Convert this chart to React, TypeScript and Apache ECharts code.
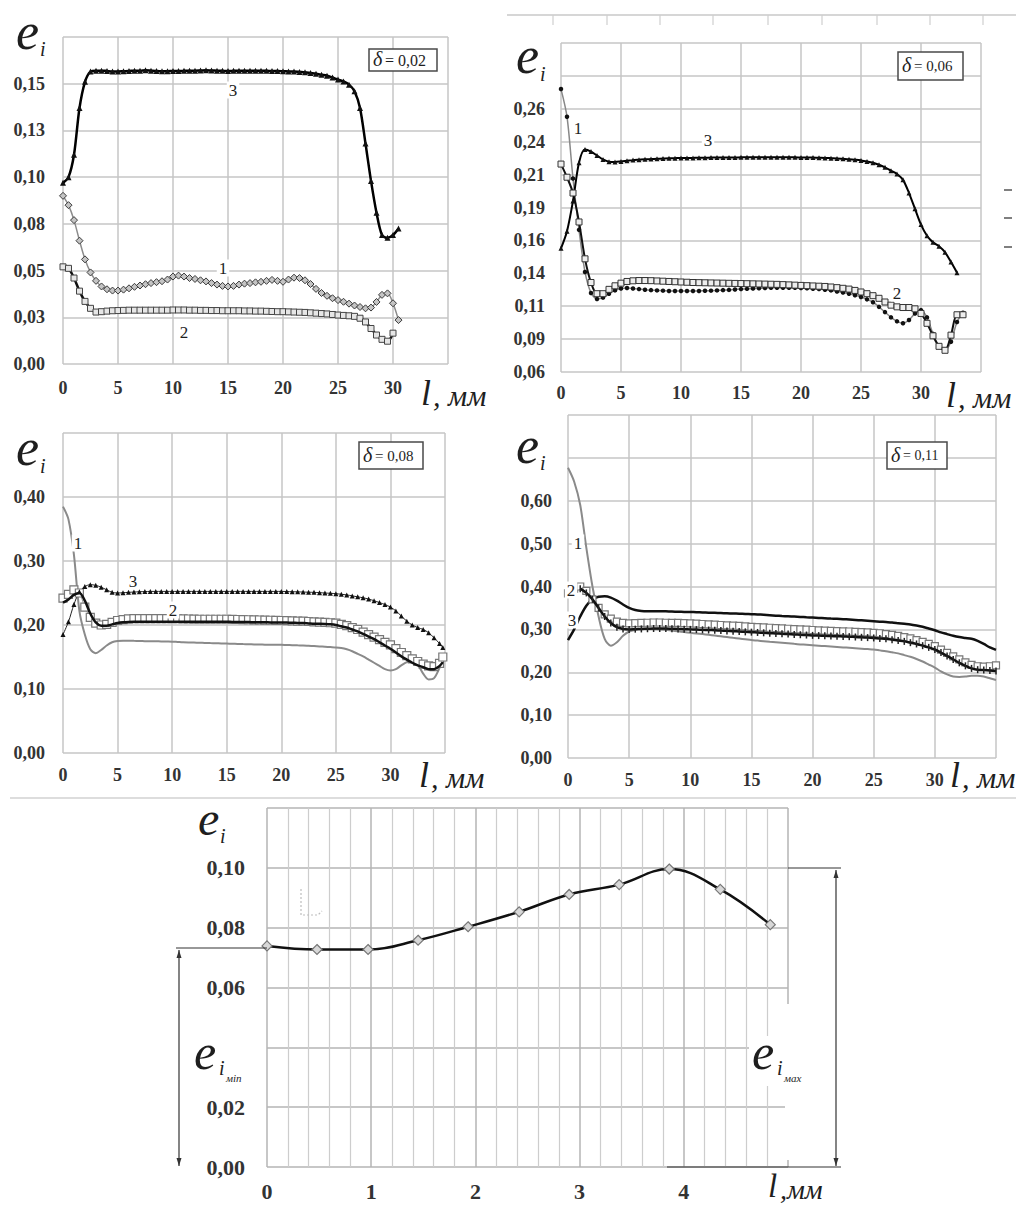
import React, { useEffect, useRef } from "react";
import * as echarts from "echarts";

const SERIF = "'Liberation Serif', 'DejaVu Serif', serif";

// ---------------- Panel 1 : δ = 0,02 ----------------
const p1X = [0,0.5,1,1.5,2,2.5,3,3.5,4,4.5,5,5.5,6,6.5,7,7.5,8,8.5,9,9.5,10,10.5,11,11.5,12,12.5,13,13.5,14,14.5,15,15.5,16,16.5,17,17.5,18,18.5,19,19.5,20,20.5,21,21.5,22,22.5,23,23.5,24,24.5,25,25.5,26,26.5,27,27.5,28,28.5,29,29.5,30,30.5,31];
const p1Curve1 = [0.090,0.085,0.077,0.066,0.056,0.049,0.0445,0.0415,0.040,0.0393,
 0.0393,0.0398,0.0405,0.0413,0.042,0.0427,0.0433,0.0438,0.0443,0.0452,
 0.0468,0.0473,0.0468,0.046,0.0455,0.0448,0.0442,0.0433,0.0425,0.0418,
 0.0415,0.0418,0.0425,0.043,0.0433,0.0437,0.044,0.0445,0.045,0.0445,
 0.044,0.0452,0.0462,0.046,0.0448,0.0428,0.0402,0.038,0.0365,0.0352,
 0.0342,0.0333,0.0323,0.0313,0.0305,0.0298,0.0302,0.0332,0.037,0.0378,
 0.0325,0.0235];
const p1Curve2 = [0.052,0.0512,0.046,0.039,0.0335,0.0298,0.0278,0.028,0.0283,0.0285,
 0.0286,0.0287,0.0288,0.0288,0.0288,0.0288,0.0288,0.0288,0.0288,0.0288,
 0.0289,0.0289,0.0289,0.0288,0.0288,0.0287,0.0287,0.0286,0.0286,0.0285,
 0.0285,0.0285,0.0285,0.0284,0.0284,0.0283,0.0283,0.0282,0.0281,0.028,
 0.028,0.0279,0.0278,0.0277,0.0276,0.0274,0.0272,0.027,0.0268,0.0265,
 0.0262,0.026,0.0258,0.0255,0.0245,0.0225,0.019,0.0155,0.0132,0.0122,
 0.0165];
const p1Curve3 = [0.097,0.100,0.112,0.137,0.151,0.1565,0.157,0.157,0.1568,0.1566,
 0.1566,0.1567,0.1568,0.157,0.157,0.1572,0.157,0.1568,0.1567,0.1567,
 0.1568,0.1568,0.1569,0.157,0.157,0.1571,0.1572,0.1571,0.157,0.1569,
 0.1568,0.1569,0.157,0.157,0.157,0.1569,0.1569,0.1569,0.1568,0.1568,
 0.1567,0.1566,0.1565,0.1563,0.1561,0.1557,0.1553,0.1548,0.1543,0.1533,
 0.1522,0.1512,0.1495,0.146,0.137,0.118,0.098,0.081,0.069,0.0675,
 0.069,0.0725];
const p1YTicks = ["0,00","0,03","0,05","0,08","0,10","0,13","0,15",""];

// ---------------- Panel 2 : δ = 0,06 ----------------
const p2X = [0,0.5,1,1.5,2,2.5,3,3.5,4,4.5,5,5.5,6,6.5,7,7.5,8,8.5,9,9.5,10,10.5,11,11.5,12,12.5,13,13.5,14,14.5,15,15.5,16,16.5,17,17.5,18,18.5,19,19.5,20,20.5,21,21.5,22,22.5,23,23.5,24,24.5,25,25.5,26,26.5,27,27.5,28,28.5,29,29.5,30,30.5,31,31.5,32,32.5,33,33.5];
const p2Curve1 = [0.275,0.254,0.207,0.168,0.136,0.12,0.1155,0.1165,0.1195,0.122,
 0.1235,0.1238,0.1235,0.123,0.1225,0.1222,0.122,0.1218,0.1216,0.1215,
 0.1215,0.1215,0.1215,0.1216,0.1217,0.1218,0.122,0.1222,0.1224,0.1227,
 0.123,0.1232,0.1234,0.1236,0.1238,0.124,0.124,0.124,0.124,0.124,
 0.1238,0.1236,0.1233,0.123,0.1225,0.122,0.1212,0.1204,0.1195,0.1183,
 0.117,0.1152,0.113,0.1095,0.1055,0.1015,0.0985,0.097,0.0995,0.1045,
 0.107,0.1015,0.089,0.0795,0.0765,0.083,0.098,0.105];
const p2Curve2 = [0.218,0.208,0.196,0.174,0.146,0.128,0.1195,0.1195,0.1228,0.1255,
 0.1275,0.1288,0.1293,0.1295,0.1295,0.1294,0.1292,0.129,0.1288,0.1286,
 0.1284,0.1282,0.128,0.1279,0.1278,0.1277,0.1276,0.1275,0.1274,0.1273,
 0.1272,0.1271,0.127,0.1269,0.1268,0.1267,0.1266,0.1264,0.1262,0.126,
 0.1258,0.1256,0.1254,0.1252,0.125,0.1246,0.1241,0.1236,0.123,0.122,
 0.1208,0.1195,0.118,0.116,0.1132,0.1108,0.1095,0.109,0.109,0.108,
 0.1045,0.097,0.0875,0.0795,0.0765,0.088,0.1035,0.1035];
const p2Curve3 = [0.154,0.167,0.19,0.219,0.229,0.2275,0.2245,0.2215,0.2198,0.2196,
 0.22,0.2205,0.221,0.2213,0.2216,0.2218,0.222,0.2222,0.2224,0.2225,
 0.2226,0.2226,0.2227,0.2228,0.2228,0.2229,0.2229,0.223,0.223,0.223,
 0.2231,0.2231,0.2231,0.2231,0.2231,0.2231,0.2231,0.2231,0.2231,0.2231,
 0.223,0.223,0.2229,0.2228,0.2227,0.2225,0.2223,0.222,0.2217,0.2213,
 0.2208,0.22,0.219,0.2175,0.2155,0.213,0.2105,0.206,0.196,0.184,
 0.172,0.1635,0.1585,0.1555,0.151,0.1435,0.1355];
const p2YMin = 0.06;
const p2YTicks = ["0,06","0,09","0,11","0,14","0,16","0,19","0,21","0,24","0,26","",""];

// ---------------- Panel 3 : δ = 0,08 ----------------
const p3X = [0,0.5,1,1.5,2,2.5,3,3.5,4,4.5,5,5.5,6,6.5,7,7.5,8,8.5,9,9.5,10,10.5,11,11.5,12,12.5,13,13.5,14,14.5,15,15.5,16,16.5,17,17.5,18,18.5,19,19.5,20,20.5,21,21.5,22,22.5,23,23.5,24,24.5,25,25.5,26,26.5,27,27.5,28,28.5,29,29.5,30,30.5,31,31.5,32,32.5,33,33.5,34,34.5,34.8];
const p3Curve1 = [0.385,0.365,0.31,0.222,0.185,0.162,0.156,0.161,0.168,0.173,
 0.175,0.1755,0.1755,0.1752,0.175,0.1748,0.1746,0.1745,0.1744,0.1742,
 0.174,0.1735,0.173,0.1727,0.1725,0.1722,0.172,0.1717,0.1715,0.1712,
 0.171,0.1707,0.1705,0.1702,0.17,0.1697,0.1695,0.1692,0.169,0.169,
 0.169,0.1687,0.1685,0.1682,0.168,0.1675,0.167,0.1665,0.166,0.1655,
 0.165,0.164,0.162,0.159,0.155,0.151,0.146,0.141,0.136,0.131,
 0.129,0.131,0.137,0.142,0.144,0.138,0.124,0.115,0.117,0.133,
 0.146];
const p3Curve2Squares = [0.242,0.248,0.255,0.25,0.228,0.212,0.203,0.2,0.201,0.204,
 0.207,0.2085,0.2095,0.21,0.21,0.21,0.21,0.21,0.21,0.21,
 0.21,0.2098,0.2096,0.2094,0.2092,0.209,0.209,0.209,0.209,0.209,
 0.209,0.2088,0.2086,0.2084,0.2082,0.208,0.2078,0.2076,0.2074,0.2072,
 0.207,0.2067,0.2065,0.2062,0.206,0.2055,0.205,0.2045,0.204,0.2035,
 0.203,0.201,0.199,0.196,0.193,0.189,0.185,0.181,0.177,0.173,
 0.169,0.163,0.157,0.152,0.147,0.143,0.139,0.136,0.135,0.14,
 0.15];
const p3Curve2Line = [0.235,0.24,0.247,0.25,0.238,0.218,0.204,0.199,0.199,0.201,
 0.203,0.2042,0.2048,0.205,0.205,0.205,0.205,0.205,0.205,0.205,
 0.205,0.205,0.205,0.205,0.205,0.205,0.205,0.205,0.205,0.205,
 0.205,0.2048,0.2047,0.2046,0.2045,0.2044,0.2043,0.2042,0.2041,0.204,
 0.204,0.2038,0.2035,0.2032,0.203,0.2025,0.202,0.2018,0.2015,0.201,
 0.2,0.198,0.196,0.193,0.19,0.186,0.182,0.178,0.173,0.168,
 0.163,0.157,0.151,0.146,0.141,0.137,0.134,0.131,0.131,0.136,
 0.142];
const p3Curve3 = [0.185,0.205,0.232,0.252,0.26,0.263,0.262,0.259,0.255,0.251,
 0.25,0.2505,0.251,0.2515,0.252,0.2522,0.2525,0.2525,0.2525,0.2525,
 0.2525,0.2525,0.2525,0.2525,0.2525,0.2525,0.2525,0.2525,0.2525,0.2525,
 0.2525,0.2525,0.2525,0.2525,0.2525,0.2525,0.2525,0.2525,0.2525,0.2525,
 0.2525,0.2523,0.252,0.2518,0.2515,0.2512,0.251,0.2505,0.25,0.2495,
 0.249,0.248,0.247,0.2455,0.244,0.2425,0.2405,0.238,0.235,0.232,
 0.228,0.222,0.214,0.206,0.2,0.196,0.193,0.188,0.18,0.171,
 0.165];
const p3YTicks = ["0,00","0,10","0,20","0,30","0,40",""];

// ---------------- Panel 4 : δ = 0,11 ----------------
const p4X = [0,0.5,1,1.5,2,2.5,3,3.5,4,4.5,5,5.5,6,6.5,7,7.5,8,8.5,9,9.5,10,10.5,11,11.5,12,12.5,13,13.5,14,14.5,15,15.5,16,16.5,17,17.5,18,18.5,19,19.5,20,20.5,21,21.5,22,22.5,23,23.5,24,24.5,25,25.5,26,26.5,27,27.5,28,28.5,29,29.5,30,30.5,31,31.5,32,32.5,33,33.5,34,34.5,35];
const p4Curve1 = [0.677,0.645,0.59,0.49,0.40,0.33,0.278,0.262,0.27,0.285,
 0.295,0.299,0.301,0.3015,0.301,0.3,0.299,0.2972,0.2955,0.2938,
 0.292,0.2905,0.289,0.2872,0.2855,0.2838,0.282,0.2802,0.2785,0.2768,
 0.275,0.2738,0.2725,0.2712,0.27,0.2688,0.2675,0.2662,0.265,0.264,
 0.263,0.262,0.261,0.26,0.259,0.258,0.257,0.256,0.255,0.254,
 0.253,0.251,0.249,0.2465,0.244,0.24,0.236,0.231,0.225,0.218,
 0.211,0.202,0.195,0.19,0.189,0.19,0.192,0.192,0.19,0.186,
 0.182];
const p4Curve2Squares = [0.384,0.395,0.40,0.39,0.37,0.35,0.335,0.325,0.318,0.315,
 0.314,0.3145,0.315,0.3155,0.316,0.316,0.3155,0.3152,0.315,0.3145,
 0.314,0.3132,0.3125,0.3118,0.311,0.3102,0.3095,0.3088,0.308,0.307,
 0.306,0.3052,0.3045,0.3038,0.303,0.3022,0.3015,0.3008,0.3,0.2992,
 0.2985,0.2978,0.297,0.2965,0.296,0.2955,0.295,0.2942,0.2935,0.2928,
 0.292,0.291,0.289,0.287,0.285,0.282,0.279,0.275,0.271,0.266,
 0.261,0.253,0.245,0.237,0.23,0.223,0.217,0.214,0.213,0.214,
 0.216];
const p4Curve2Line = [null,null,0.395,0.385,0.37,0.35,0.33,0.315,0.305,0.301,
 0.3,0.3005,0.301,0.3015,0.302,0.302,0.302,0.3015,0.301,0.3005,
 0.3,0.2995,0.299,0.2985,0.298,0.2972,0.2965,0.2958,0.295,0.2942,
 0.2935,0.2928,0.292,0.2912,0.2905,0.2898,0.289,0.2882,0.2875,0.2868,
 0.286,0.2855,0.285,0.2845,0.284,0.2835,0.283,0.2822,0.2815,0.2808,
 0.28,0.279,0.278,0.276,0.274,0.272,0.269,0.266,0.262,0.258,
 0.253,0.246,0.238,0.23,0.222,0.215,0.209,0.206,0.205,0.204,
 0.203];
const p4Curve3 = [0.275,0.30,0.33,0.355,0.37,0.376,0.377,0.374,0.367,0.358,
 0.35,0.345,0.343,0.3425,0.3425,0.3422,0.342,0.3415,0.341,0.3408,
 0.3405,0.34,0.3395,0.339,0.3385,0.338,0.3375,0.337,0.3365,0.336,
 0.3355,0.3348,0.334,0.333,0.332,0.3312,0.3305,0.3298,0.329,0.3282,
 0.3275,0.3268,0.326,0.3252,0.3245,0.3238,0.323,0.322,0.321,0.32,
 0.319,0.318,0.317,0.316,0.3145,0.313,0.3115,0.309,0.306,0.302,
 0.298,0.293,0.289,0.285,0.282,0.28,0.278,0.273,0.266,0.258,
 0.252];
const p4YTicks = ["0,00","0,10","0,20","0,30","0,40","0,50","0,60","",""];

// ---------------- Panel 5 : e_i along l ----------------
const p5X = [0,0.48,0.97,1.45,1.93,2.42,2.9,3.38,3.86,4.35,4.83];
const p5Y = [0.0739,0.0727,0.0727,0.0758,0.0803,0.0853,0.0911,0.0944,0.0996,0.0928,0.081];
const p5YTicks = ["0,00","0,02","","0,06","0,08","0,10",""];
const p5XTicks = ["0","1","2","3","4",""];

const mmTicks = ["0","5","10","15","20","25","30",""];

type Pt = [number, number];
function pts(xs: number[], ys: (number | null)[], off = 0): Pt[] {
  const out: Pt[] = [];
  ys.forEach((y, i) => {
    if (y != null) out.push([xs[i], Math.round((y - off) * 1e6) / 1e6]);
  });
  return out;
}

function ser(idx: number, data: Pt[], o: any) {
  const hasSym = o.symbol != null && o.symbol !== "none";
  return {
    type: "line",
    xAxisIndex: idx,
    yAxisIndex: idx,
    data,
    smooth: o.smooth ?? 0.3,
    symbol: o.symbol ?? "none",
    symbolSize: o.size ?? 6,
    showSymbol: hasSym,
    showAllSymbol: true,
    lineStyle: { color: o.line, width: o.width ?? 2 },
    itemStyle: {
      color: o.fill ?? o.line,
      borderColor: o.border ?? o.fill ?? o.line,
      borderWidth: o.bw ?? 0,
    },
    emphasis: { disabled: true },
    silent: true,
    z: o.z ?? 2,
  };
}

function xAx(gi: number, max: number, interval: number, labels: string[], fs: number, margin: number, minor = false) {
  const a: any = {
    type: "value",
    gridIndex: gi,
    min: 0,
    max,
    interval,
    axisLine: { show: false },
    axisTick: { show: false },
    axisLabel: {
      margin,
      fontFamily: SERIF,
      fontSize: fs,
      fontWeight: "bold",
      color: "#333",
      formatter: (v: number) => labels[Math.round(v / interval)] ?? "",
    },
    splitLine: { show: true, lineStyle: { color: minor ? "#b4b4b4" : "#c6c6c6", width: 1.5 } },
  };
  if (minor) {
    a.minorTick = { show: false, splitNumber: 5 };
    a.minorSplitLine = { show: true, lineStyle: { color: "#cdcdcd", width: 1.2 } };
  }
  return a;
}

function yAx(gi: number, max: number, interval: number, labels: string[], fs: number, margin: number, color = "#c6c6c6") {
  return {
    type: "value",
    gridIndex: gi,
    min: 0,
    max,
    interval,
    axisLine: { show: false },
    axisTick: { show: false },
    axisLabel: {
      margin,
      fontFamily: SERIF,
      fontSize: fs,
      fontWeight: "bold",
      color: "#333",
      formatter: (v: number) => labels[Math.round(v / interval)] ?? "",
    },
    splitLine: { show: true, lineStyle: { color, width: 1.5 } },
  };
}

const T = (x: number, y: number, text: string, size: number, o: any = {}) => ({
  type: "text",
  x,
  y,
  z: o.z ?? 120,
  silent: true,
  style: {
    text,
    fill: o.color ?? "#1e1e1e",
    font: `${o.italic ? "italic " : ""}${o.bold ? "bold " : ""}${size}px ${SERIF}`,
    align: o.align ?? "left",
    verticalAlign: "middle",
    textAlign: o.align ?? "left",
    textVerticalAlign: "middle",
    backgroundColor: o.bg,
    padding: o.pad,
  },
});
const L = (x1: number, y1: number, x2: number, y2: number, color = "#333", w = 1.2, dash?: number[]) => ({
  type: "line",
  z: 115,
  silent: true,
  shape: { x1, y1, x2, y2 },
  style: { stroke: color, lineWidth: w, lineDash: dash },
});
const R = (x: number, y: number, w: number, h: number, fill: string, stroke?: string, lw = 1.5, z = 110) => ({
  type: "rect",
  z,
  silent: true,
  shape: { x, y, width: w, height: h },
  style: { fill, stroke, lineWidth: lw },
});
const TRI = (p: number[][], color = "#333") => ({
  type: "polygon",
  z: 116,
  silent: true,
  shape: { points: p },
  style: { fill: color },
});

function eLabel(x: number, y: number, size: number, sub: string, subX: number, subY: number, subSize: number) {
  return [T(x, y, "e", size, { italic: true }), T(subX, subY, sub, subSize, { italic: true })];
}
function lmm(x: number, y: number, text = ", мм") {
  return [T(x, y - 2, "l", 36, { italic: true }), T(x + 12, y, text, 30, { italic: true })];
}
function deltaBox(x: number, y: number, w: number, h: number, val: string, fs: number) {
  const cy = y + h / 2;
  return [
    R(x, y, w, h, "#fff", "#4a4a4a", 1.5, 112),
    T(x + 4, cy - 1, "δ", 20, { italic: true }),
    T(x + 16, cy, "= " + val, fs, {}),
  ];
}
const num = (x: number, y: number, t: string) => T(x, y, t, 17, { align: "center", bg: "#fff", pad: [0, 2] });

function buildOption() {
  const grids = [
    { left: 63, top: 37, width: 385, height: 327 },
    { left: 561, top: 43, width: 420, height: 329 },
    { left: 63, top: 433, width: 382, height: 320 },
    { left: 568, top: 415, width: 428, height: 343 },
    { left: 267, top: 808, width: 521, height: 359 },
  ].map((g) => ({ ...g, containLabel: false, outerBoundsMode: "none" }));

  const xAxis = [
    xAx(0, 35, 5, mmTicks, 18, 15),
    xAx(1, 35, 5, mmTicks, 18, 12),
    xAx(2, 35, 5, mmTicks, 18, 13),
    xAx(3, 35, 5, mmTicks, 18, 13),
    xAx(4, 5, 1, p5XTicks, 22, 13, true),
  ];
  const yAxis = [
    yAx(0, 0.175, 0.025, p1YTicks, 18, 18),
    yAx(1, 0.25, 0.025, p2YTicks, 18, 16),
    yAx(2, 0.5, 0.1, p3YTicks, 18, 18),
    yAx(3, 0.8, 0.1, p4YTicks, 18, 16),
    yAx(4, 0.12, 0.02, p5YTicks, 22, 22, "#b4b4b4"),
  ];

  const series = [
    // panel 1
    ser(0, pts(p1X, p1Curve1), { line: "#8c8c8c", width: 1.5, symbol: "diamond", size: 7, fill: "#c4c4c4", border: "#3a3a3a", bw: 1 }),
    ser(0, pts(p1X, p1Curve2), { line: "#111", width: 2.5, symbol: "rect", size: 6, fill: "#e6e6e6", border: "#444", bw: 1 }),
    ser(0, pts(p1X, p1Curve3), { line: "#000", width: 2.5, symbol: "triangle", size: 6, fill: "#111" }),
    // panel 2
    ser(1, pts(p2X, p2Curve1, p2YMin), { line: "#888", width: 1.5, symbol: "circle", size: 4.5, fill: "#111" }),
    ser(1, pts(p2X, p2Curve2, p2YMin), { line: "#111", width: 2, symbol: "rect", size: 6, fill: "#eee", border: "#333", bw: 1 }),
    ser(1, pts(p2X, p2Curve3, p2YMin), { line: "#000", width: 2, symbol: "triangle", size: 5, fill: "#111" }),
    // panel 3
    ser(2, pts(p3X, p3Curve1), { line: "#8a8a8a", width: 2 }),
    ser(2, pts(p3X, p3Curve2Squares), { line: "#9a9a9a", width: 1, symbol: "rect", size: 8, fill: "#fff", border: "#777", bw: 1.2 }),
    ser(2, pts(p3X, p3Curve2Line), { line: "#111", width: 2.5, z: 3 }),
    ser(2, pts(p3X, p3Curve3), { line: "#222", width: 1, symbol: "triangle", size: 5, fill: "#111" }),
    // panel 4
    ser(3, pts(p4X, p4Curve1), { line: "#8a8a8a", width: 2 }),
    ser(3, pts(p4X, p4Curve2Squares), { line: "#999", width: 1, symbol: "rect", size: 7, fill: "#fff", border: "#777", bw: 1.2 }),
    ser(3, pts(p4X, p4Curve2Line), { line: "#111", width: 2.5, symbol: "rect", size: [1.5, 7], fill: "#222", z: 3 }),
    ser(3, pts(p4X, p4Curve3), { line: "#111", width: 2.5 }),
    // panel 5
    ser(4, pts(p5X, p5Y), { line: "#111", width: 2.5, smooth: 0.4, symbol: "diamond", size: 10, fill: "#d8d8d8", border: "#777", bw: 1.2 }),
  ];

  const graphic: any[] = [
    // fragments of neighbouring figures
    L(507, 15, 1016, 15, "#c8c8c8", 1.5),
    ...[553, 607, 660, 713, 768, 822, 877, 930, 983].map((x) => L(x, 15, x, 25, "#cfcfcf", 1.2)),
    L(1004, 190, 1012, 190, "#555", 1.5),
    L(1004, 218, 1012, 218, "#555", 1.5),
    L(1004, 247, 1012, 247, "#555", 1.5),
    L(10, 798, 1016, 798, "#d2d2d2", 1.5),

    // panel 1
    ...eLabel(16, 31, 52, "i", 40, 49, 20),
    ...lmm(421, 395),
    ...deltaBox(369, 49, 68, 22, "0,02", 16),
    num(233, 90, "3"),
    num(223, 268, "1"),
    num(184, 332, "2"),

    // panel 2
    ...eLabel(516, 55, 52, "i", 540, 74, 20),
    ...lmm(946, 397),
    ...deltaBox(898, 52, 65, 28, "0,06", 15),
    num(578, 128, "1"),
    num(708, 140, "3"),
    num(897, 293, "2"),

    // panel 3
    ...eLabel(16, 447, 52, "i", 40, 466, 20),
    ...lmm(419, 777),
    ...deltaBox(359, 442, 64, 27, "0,08", 15),
    num(78, 543, "1"),
    num(133, 581, "3"),
    num(173, 610, "2"),

    // panel 4
    ...eLabel(516, 445, 52, "i", 540, 463, 20),
    ...lmm(950, 777),
    ...deltaBox(887, 442, 60, 27, "0,11", 14),
    num(578, 543, "1"),
    num(571, 590, "2"),
    num(572, 620, "3"),

    // panel 5
    ...eLabel(198, 818, 48, "i", 220, 836, 20),
    T(768, 1186, "l", 33, { italic: true }),
    T(780, 1189, ",мм", 28, { italic: true }),
    R(749, 1036, 66, 50, "#fff", undefined, 0, 108),
    R(785, 1004, 6, 156, "#fff", undefined, 0, 108),
    // e_i min
    L(176, 948, 267, 948, "#333", 1.2),
    L(179, 950, 179, 1166, "#333", 1.2),
    TRI([[179, 950], [176.5, 958], [181.5, 958]]),
    TRI([[179, 1166], [176.5, 1158], [181.5, 1158]]),
    T(194, 1052, "e", 50, { italic: true }),
    T(219, 1068, "i", 20, { italic: true }),
    T(226, 1078, "мin", 11, { italic: true }),
    // e_i max
    L(788, 868, 841, 868, "#333", 1.2),
    L(667, 1167, 841, 1167, "#333", 1.2),
    L(836, 870, 836, 1166, "#333", 1.2),
    TRI([[836, 870], [833.5, 878], [838.5, 878]]),
    TRI([[836, 1166], [833.5, 1158], [838.5, 1158]]),
    T(752, 1052, "e", 50, { italic: true }),
    T(777, 1068, "i", 20, { italic: true }),
    T(784, 1078, "мax", 11, { italic: true }),
    // small faint mark
    {
      type: "polyline",
      z: 115,
      silent: true,
      shape: { points: [[301, 889], [301, 915], [318, 915], [322, 911]] },
      style: { stroke: "#bdbdbd", lineWidth: 1.2, lineDash: [2, 2], fill: null },
    },
  ];

  return {
    animation: false,
    backgroundColor: "#ffffff",
    grid: grids,
    xAxis,
    yAxis,
    series,
    graphic: { elements: graphic },
  };
}

export default function App() {
  const ref = useRef<HTMLDivElement>(null);
  useEffect(() => {
    document.body.style.margin = "0";
    const chart = echarts.init(ref.current!, null, { renderer: "svg" });
    chart.setOption(buildOption() as any);
    return () => chart.dispose();
  }, []);
  return <div ref={ref} style={{ width: 1016, height: 1207, background: "#fff" }} />;
}
